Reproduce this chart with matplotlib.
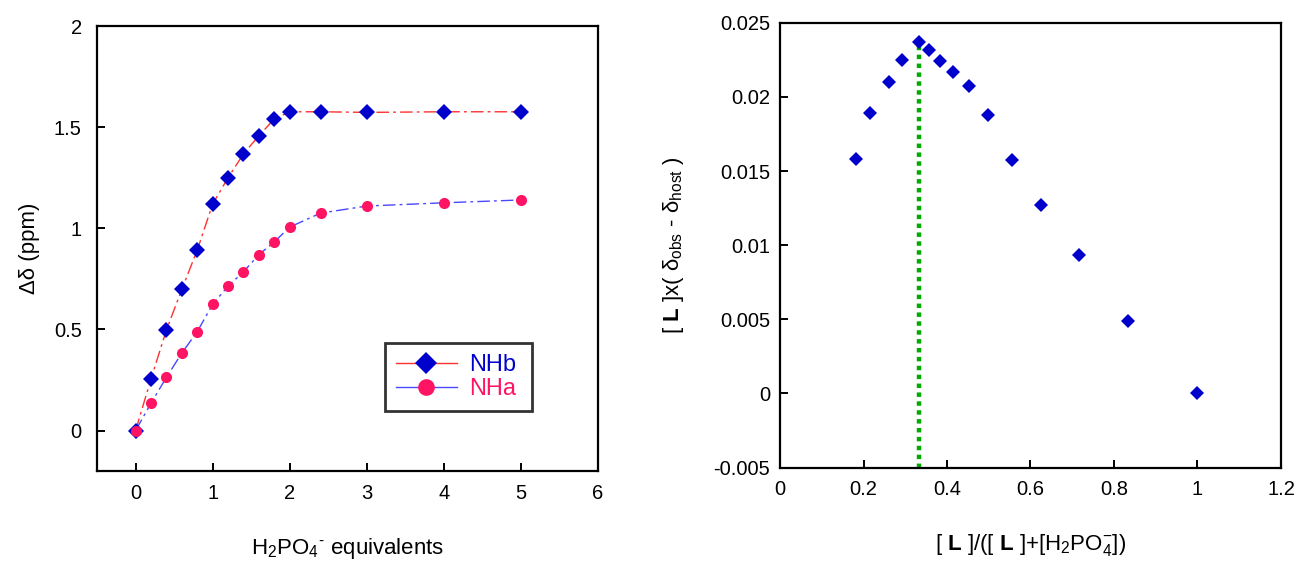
import matplotlib
matplotlib.use('Agg')
import matplotlib.pyplot as plt
from matplotlib.lines import Line2D

plt.rcParams['font.family'] = ['Liberation Sans', 'DejaVu Sans']
plt.rcParams['mathtext.fontset'] = 'custom'
plt.rcParams['mathtext.rm'] = 'Liberation Sans'
plt.rcParams['mathtext.it'] = 'Liberation Sans:italic'
plt.rcParams['mathtext.bf'] = 'Liberation Sans:bold'

# 滴定數據 (左圖)
equiv = [0, 0.2, 0.4, 0.6, 0.8, 1.0, 1.2, 1.4, 1.6, 1.8, 2.0, 2.4, 3.0, 4.0, 5.0]
nhb = [0, 0.255, 0.497, 0.698, 0.892, 1.12, 1.25, 1.368, 1.458, 1.54, 1.576, 1.576, 1.573, 1.576, 1.576]
nha = [0, 0.135, 0.263, 0.383, 0.489, 0.624, 0.714, 0.785, 0.870, 0.933, 1.006, 1.075, 1.11, 1.126, 1.14]

# Job plot 數據 (右圖)
mole_frac = [0.181, 0.2145, 0.261, 0.293, 0.3325, 0.357, 0.384, 0.415, 0.4536,
             0.4993, 0.5555, 0.625, 0.716, 0.834, 1.0]
job_val = [0.01579, 0.01893, 0.0210, 0.0225, 0.02367, 0.02318, 0.02244, 0.02167,
           0.02071, 0.01878, 0.01572, 0.01269, 0.00932, 0.00489, 0.0]
peak_x = 0.333
peak_y = 0.02367

fig = plt.figure(figsize=(12.99, 5.63), dpi=100)
ax1 = fig.add_axes([0.0747, 0.1634, 0.3857, 0.7904])
ax2 = fig.add_axes([0.6005, 0.1694, 0.3856, 0.7903])

dashdot = (0, (9, 3, 2, 3))

# 左圖
ax1.plot(equiv, nhb, color='#ff3030', lw=1, linestyle=dashdot, zorder=2)
ax1.plot(equiv, nha, color='#4848ff', lw=1, linestyle=dashdot, zorder=2)
ax1.plot(equiv, nhb, 'D', color='#0000cc', markersize=8.5, markeredgewidth=0, zorder=3)
ax1.plot(equiv, nha, 'o', color='#ff1464', markersize=8, markeredgewidth=0, zorder=4)
ax1.set_xlim(-0.5, 6)
ax1.set_ylim(-0.2, 2)
ax1.set_xticks([0, 1, 2, 3, 4, 5, 6])
ax1.set_yticks([0, 0.5, 1, 1.5, 2])
ax1.set_yticklabels(['0', '0.5', '1', '1.5', '2'])
ax1.set_xlabel('H$_2$PO$_4$$^{\u2010}$ equivalents', fontsize=16, labelpad=24)
ax1.set_ylabel('Δδ (ppm)', fontsize=16, labelpad=10)

handles = [
    Line2D([], [], color='#ff3030', lw=1, marker='D', markersize=11,
           markerfacecolor='#0000cc', markeredgewidth=0),
    Line2D([], [], color='#4848ff', lw=1, marker='o', markersize=12,
           markerfacecolor='#ff1464', markeredgewidth=0),
]
leg = ax1.legend(handles, ['NHb', 'NHa'], loc='lower left', bbox_to_anchor=(0.575, 0.135, 0.293, 0.163),
                 mode='expand', borderaxespad=0, fontsize=17, frameon=True, fancybox=False,
                 edgecolor='black', handlelength=2.6, borderpad=0.45, labelspacing=0.1,
                 handletextpad=0.5)
leg.get_frame().set_linewidth(2)
leg.texts[0].set_color('#0000cc')
leg.texts[1].set_color('#ff1464')

# 右圖
ax2.plot([peak_x, peak_x], [-0.005, peak_y], color='#00aa00', lw=3.2,
         linestyle=(0, (1, 1)), zorder=2)
ax2.plot(mole_frac, job_val, 'D', color='#0000cc', markersize=7, markeredgewidth=0, zorder=3)
ax2.set_xlim(0, 1.2)
ax2.set_ylim(-0.005, 0.025)
ax2.set_xticks([0, 0.2, 0.4, 0.6, 0.8, 1.0, 1.2])
ax2.set_xticklabels(['0', '0.2', '0.4', '0.6', '0.8', '1', '1.2'])
ax2.set_yticks([-0.005, 0, 0.005, 0.01, 0.015, 0.02, 0.025])
ax2.set_yticklabels(['-0.005', '0', '0.005', '0.01', '0.015', '0.02', '0.025'])
ax2.set_xlabel(r'[ $\mathbf{L}$ ]/([ $\mathbf{L}$ ]+[H$_2$PO$_4^{-}$])', fontsize=16, labelpad=24)
ax2.set_ylabel(r'[ $\mathbf{L}$ ]x( δ$_{\mathrm{obs}}$ - δ$_{\mathrm{host}}$ )', fontsize=16, labelpad=20)

for ax, ypad in ((ax1, 11), (ax2, 7)):
    for s in ax.spines.values():
        s.set_linewidth(1.6)
    ax.tick_params(axis='both', direction='in', length=6, width=1.4, labelsize=14.5,
                   top=False, right=False)
    ax.tick_params(axis='x', pad=9)
    ax.tick_params(axis='y', pad=ypad)

fig.savefig('out.png', dpi=100)
